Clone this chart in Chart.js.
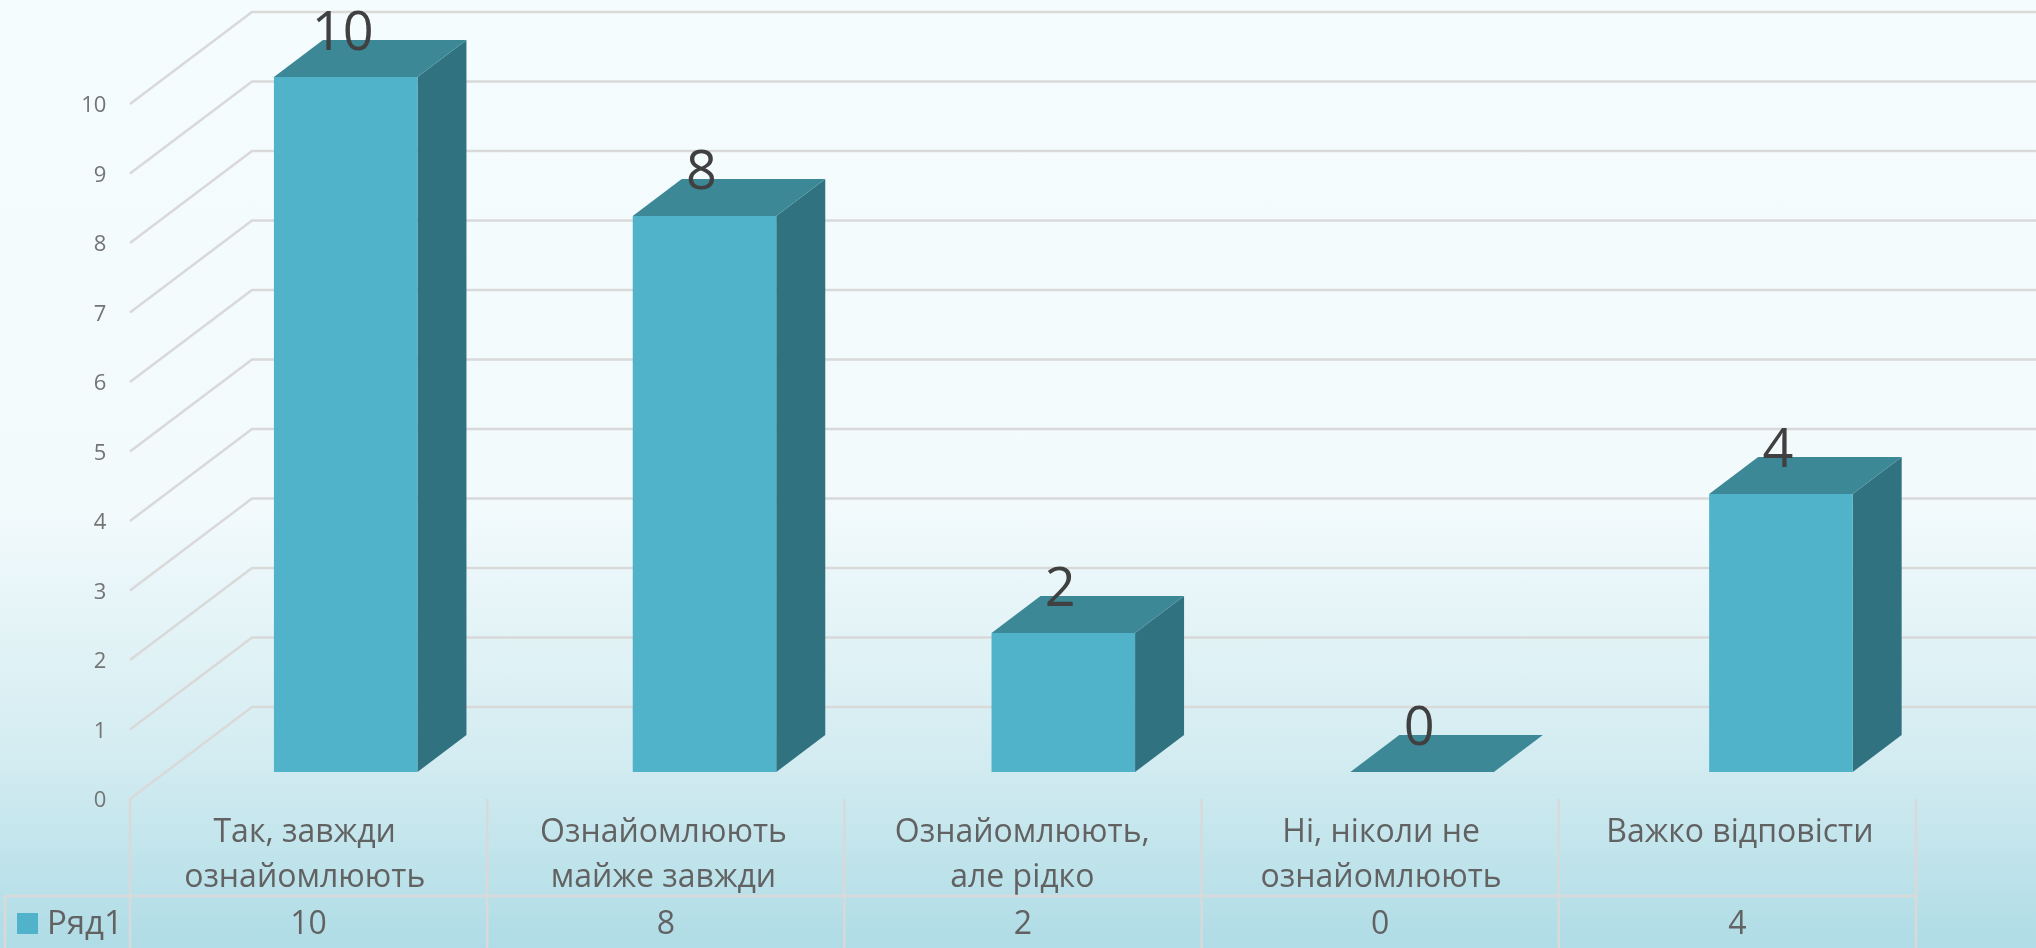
<!DOCTYPE html>
<html>
<head>
<meta charset="utf-8">
<title>Ряд1</title>
<script src="https://cdn.jsdelivr.net/npm/chart.js@4"></script>
<style>
  html, body { margin: 0; padding: 0; }
  body { width: 2036px; height: 948px; overflow: hidden;
         background: linear-gradient(180deg, #f5fcfd 0%, #f2fafc 54%, #d3ecf1 80%, #afdce6 100%); }
  canvas { display: block; }
</style>
</head>
<body>
<canvas id="myChart" width="2036" height="948"></canvas>
<script>
var categories = [
  ['Так, завжди', 'ознайомлюють'],
  ['Ознайомлюють', 'майже завжди'],
  ['Ознайомлюють,', 'але рідко'],
  ['Ні, ніколи не', 'ознайомлюють'],
  ['Важко відповісти']
];
var seriesName = 'Ряд1';
var seriesValues = [10, 8, 2, 0, 4];
var yTicks = [0, 1, 2, 3, 4, 5, 6, 7, 8, 9, 10];

var fontName = '"Open Sans", sans-serif';
var frontColor = '#50b3c9';
var sideColor = '#307280';
var topColor = '#3c8897';
var gridColor = '#d9d9d9';

// depth of the bars and of the back wall, px
var barDepthX = 49, barDepthY = 37;
var wallFrontX = 130, wallBackX = 252;
var wallFrontDy = 27, wallBackDy = -65;
var colLeft = 130, colWidth = 357.2;
var tableTop = 896;

function poly(ctx, pts, color) {
  ctx.fillStyle = color;
  ctx.beginPath();
  ctx.moveTo(pts[0][0], pts[0][1]);
  for (var i = 1; i < pts.length; i++) ctx.lineTo(pts[i][0], pts[i][1]);
  ctx.closePath();
  ctx.fill();
}

function line(ctx, x1, y1, x2, y2) {
  ctx.beginPath();
  ctx.moveTo(x1, y1);
  ctx.lineTo(x2, y2);
  ctx.stroke();
}

var wall3d = {
  id: 'wall3d',
  beforeDatasetsDraw: function(chart) {
    var ctx = chart.ctx, y = chart.scales.y;
    ctx.save();
    ctx.strokeStyle = gridColor;
    ctx.lineWidth = 2.6;
    y.ticks.forEach(function(t) {
      var py = y.getPixelForValue(t.value);
      ctx.beginPath();
      ctx.moveTo(wallFrontX, py + wallFrontDy);
      ctx.lineTo(wallBackX, py + wallBackDy);
      ctx.lineTo(chart.width, py + wallBackDy);
      ctx.stroke();
    });
    // side and top of each bar
    chart.getDatasetMeta(0).data.forEach(function(bar) {
      var l = bar.x - bar.width / 2, r = bar.x + bar.width / 2;
      if (bar.base > bar.y) {
        poly(ctx, [[r, bar.y], [r + barDepthX, bar.y - barDepthY],
                   [r + barDepthX, bar.base - barDepthY], [r, bar.base]], sideColor);
      }
      poly(ctx, [[l, bar.y], [l + barDepthX, bar.y - barDepthY],
                 [r + barDepthX, bar.y - barDepthY], [r, bar.y]], topColor);
    });
    ctx.restore();
  },
  afterDatasetsDraw: function(chart) {
    var ctx = chart.ctx;
    ctx.save();
    // labels over the bars
    ctx.fillStyle = '#404040';
    ctx.font = '54px ' + fontName;
    ctx.textAlign = 'center';
    ctx.textBaseline = 'middle';
    chart.getDatasetMeta(0).data.forEach(function(bar, i) {
      ctx.fillText(seriesValues[i], bar.x - 3, bar.y - 42);
    });

    // data table under the chart
    ctx.strokeStyle = gridColor;
    ctx.lineWidth = 2.4;
    line(ctx, 5, tableTop, colLeft + colWidth * categories.length, tableTop);
    line(ctx, 5, tableTop, 5, chart.height);
    for (var c = 0; c <= categories.length; c++) {
      var cx = colLeft + colWidth * c;
      line(ctx, cx, 799, cx, chart.height);
    }
    ctx.fillStyle = '#626262';
    ctx.font = '32px ' + fontName;
    seriesValues.forEach(function(v, i) {
      ctx.fillText(v, colLeft + colWidth * (i + 0.5), 925);
    });
    ctx.textAlign = 'left';
    ctx.font = '33px ' + fontName;
    ctx.fillText(seriesName, 47, 925);
    ctx.fillStyle = frontColor;
    ctx.fillRect(17, 913, 21, 21);
    ctx.restore();
  }
};

new Chart(document.getElementById('myChart'), {
  type: 'bar',
  data: {
    labels: categories,
    datasets: [{
      label: seriesName,
      data: seriesValues,
      backgroundColor: frontColor,
      barPercentage: 0.4,
      categoryPercentage: 1
    }]
  },
  options: {
    responsive: false,
    animation: false,
    layout: { padding: { top: 77, right: 75.7 } },
    plugins: { legend: { display: false }, tooltip: { enabled: false } },
    scales: {
      x: {
        afterFit: function(s) { s.height = 176; },
        grid: { display: false, drawTicks: false },
        border: { display: false },
        ticks: {
          autoSkip: false, maxRotation: 0, padding: 38, labelOffset: -41,
          color: '#626262',
          font: { family: fontName, size: 32, lineHeight: 45 / 32 }
        }
      },
      y: {
        min: yTicks[0],
        max: yTicks[yTicks.length - 1],
        afterFit: function(s) { s.width = 166.3; },
        grid: { display: false, drawTicks: false },
        border: { display: false },
        ticks: {
          stepSize: 1, padding: 60, labelOffset: 29,
          color: '#747474',
          font: { family: fontName, size: 22 }
        }
      }
    }
  },
  plugins: [wall3d]
});
</script>
</body>
</html>
